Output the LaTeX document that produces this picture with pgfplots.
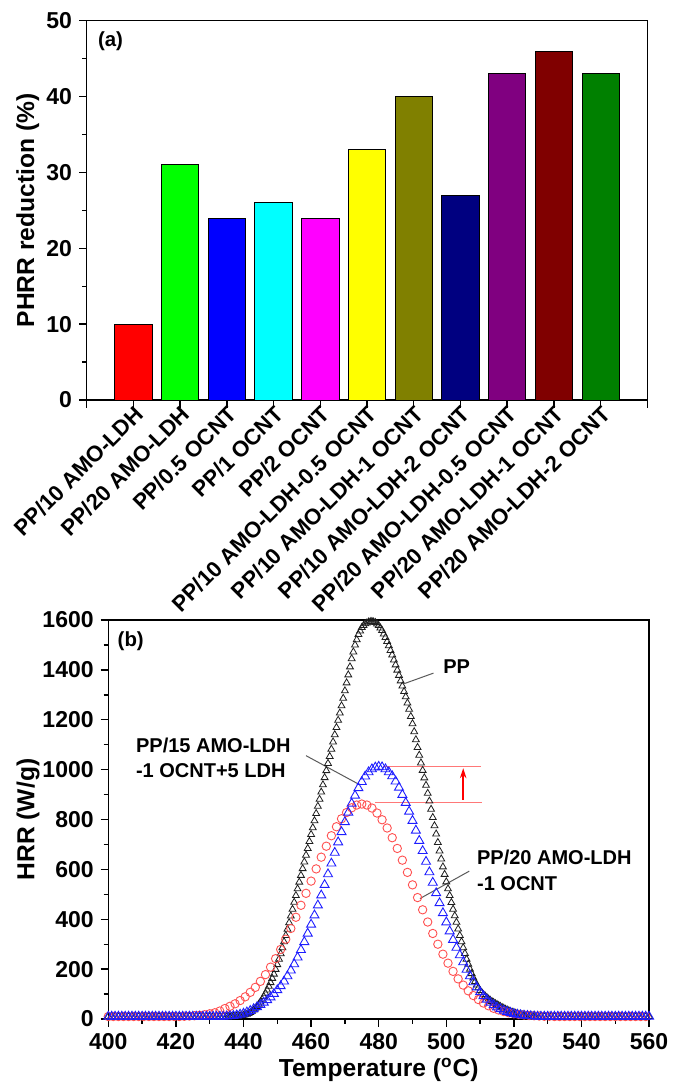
\documentclass[border=0pt]{standalone}
\usepackage{pgfplots}
\pgfplotsset{compat=1.18}
\usepackage{fontspec}
\setmainfont{Liberation Sans}
\usetikzlibrary{arrows.meta}
\definecolor{cRed}{RGB}{255,0,0}
\definecolor{cGreen}{RGB}{0,255,0}
\definecolor{cBlue}{RGB}{0,0,255}
\definecolor{cCyan}{RGB}{0,255,255}
\definecolor{cMag}{RGB}{255,0,255}
\definecolor{cYel}{RGB}{255,255,0}
\definecolor{cOlive}{RGB}{128,128,0}
\definecolor{cNavy}{RGB}{0,0,128}
\definecolor{cPurple}{RGB}{128,0,128}
\definecolor{cMaroon}{RGB}{128,0,0}
\definecolor{cDkGreen}{RGB}{0,128,0}
\definecolor{cCirc}{RGB}{255,80,80}
\definecolor{cTri}{RGB}{30,30,255}
\definecolor{cPP}{RGB}{30,30,30}
\definecolor{cLead}{RGB}{90,90,90}
\definecolor{cGuide}{RGB}{255,120,120}
\pgfplotsset{
  common/.style={
    scale only axis,
    tick align=outside, tick pos=left,
    major tick length=3.8pt, minor tick length=2.3pt,
    axis line style={line width=0.7pt},
    every tick/.style={line width=0.7pt, black},
    /pgf/number format/assume math mode=true,
    /pgf/number format/1000 sep={},
    tick label style={font=\bfseries\fontsize{11.5}{13}\selectfont},
    label style={font=\bfseries\fontsize{12.3}{14}\selectfont},
  }
}
\begin{document}
\begin{tikzpicture}
\useasboundingbox (0,0) rectangle (337.5pt,-546pt);
% ---------------- panel (a)
\begin{axis}[common,
  at={(43.35pt,-200pt)}, anchor=south west,
  width=280.3pt, height=189.65pt,
  xmin=0, xmax=12, ymin=0, ymax=50,
  xtick={0,1,2,3,4,5,6,7,8,9,10,11,12},
  xticklabels={{},PP/10 AMO-LDH,PP/20 AMO-LDH,PP/0.5 OCNT,PP/1 OCNT,PP/2 OCNT,PP/10 AMO-LDH-0.5 OCNT,PP/10 AMO-LDH-1 OCNT,PP/10 AMO-LDH-2 OCNT,PP/20 AMO-LDH-0.5 OCNT,PP/20 AMO-LDH-1 OCNT,PP/20 AMO-LDH-2 OCNT,{}},
  x tick label style={rotate=45, anchor=east, xshift=4.5pt, yshift=-3pt, font=\bfseries\fontsize{11.1}{13}\selectfont},
  ytick={0,10,20,30,40,50}, minor y tick num=1,
  ylabel={PHRR reduction (\%)},
  ylabel style={at={(axis description cs:-0.105,0.5)}, anchor=center},
  ybar, bar shift=0pt, bar width=0.8,
]
\addplot[fill=cRed, draw=black, line width=0.4pt] coordinates {(1,10)};
\addplot[fill=cGreen, draw=black, line width=0.4pt] coordinates {(2,31)};
\addplot[fill=cBlue, draw=black, line width=0.4pt] coordinates {(3,24)};
\addplot[fill=cCyan, draw=black, line width=0.4pt] coordinates {(4,26)};
\addplot[fill=cMag, draw=black, line width=0.4pt] coordinates {(5,24)};
\addplot[fill=cYel, draw=black, line width=0.4pt] coordinates {(6,33)};
\addplot[fill=cOlive, draw=black, line width=0.4pt] coordinates {(7,40)};
\addplot[fill=cNavy, draw=black, line width=0.4pt] coordinates {(8,27)};
\addplot[fill=cPurple, draw=black, line width=0.4pt] coordinates {(9,43)};
\addplot[fill=cMaroon, draw=black, line width=0.4pt] coordinates {(10,46)};
\addplot[fill=cDkGreen, draw=black, line width=0.4pt] coordinates {(11,43)};
\node[anchor=west, inner sep=0pt, font=\bfseries\fontsize{10.2}{12}\selectfont] at (rel axis cs:0.0196,0.947) {(a)};
\end{axis}
% ---------------- panel (b)
\begin{axis}[common,
  at={(54.15pt,-509.5pt)}, anchor=south west,
  width=270.4pt, height=199.5pt,
  xmin=400, xmax=560, ymin=0, ymax=1600,
  xtick={400,420,...,560}, minor x tick num=1,
  ytick={0,200,...,1600}, minor y tick num=1,
  xlabel={Temperature (\textsuperscript{o}C)},
  ylabel={HRR (W/g)},
  xlabel style={at={(axis description cs:0.5,-0.128)}, anchor=center},
  ylabel style={at={(axis description cs:-0.1485,0.5)}, anchor=center},
  clip=false,
]
% PP
\addplot[only marks, mark=triangle, mark size=2.0pt, color=cPP, mark options={line width=0.4pt}] coordinates {
(400,10)(401,10)(402,10)(403,10)(404,10)(405,10)(406,10)(407,10)(408,10)(409,10)(410,10)(411,10)(412,10)(413,10)(414,10)(415,10)(416,10)(417,10)(418,10)(419,10)(420,10)(421,10)(422,10)(423,10)(424,10)(425,10)(426,10)(427,10)(428,10)(429,10)(430,10)(431,10)(432,10)(433,10)(434,10)(435,10)
(435.5,10)(436,10)(436.5,10)(437,11)(437.5,11)(438,12)(438.5,12)(439,13)(439.5,14)(440,15)(440.5,17)(441,19)(441.5,22)(442,26)(442.5,31)(443,36)(443.5,43)(444,50)(444.5,59)(445,68)(445.5,79)(446,90)(446.5,103)(447,116)(447.5,131)(448,146)(448.5,163)(449,180)(449.5,199)(450,218)(450.5,240)(451,262)(451.5,286)(452,310)(452.5,335)(453,360)(453.5,386)(454,413)(454.5,440)(455,468)(455.5,495)(456,522)(456.5,549)(457,576)(457.5,603)(458,630)(458.5,657)(459,684)(459.5,712)(460,740)(460.5,767)(461,795)(461.5,824)(462,853)(462.5,881)(463,910)(463.5,939)(464,968)(464.5,996)(465,1025)(465.5,1053)(466,1082)(466.5,1111)(467,1140)(467.5,1169)(468,1198)(468.5,1227)(469,1256)(469.5,1286)(470,1316)(470.5,1348)(471,1380)(471.5,1412)(472,1445)(472.5,1472)(473,1500)(473.5,1521)(474,1542)(474.5,1556)(475,1570)(475.5,1578)(476,1585)(476.5,1588)(477,1592)(477.5,1593)(478,1594)(478.5,1592)(479,1590)(479.5,1584)(480,1578)(480.5,1568)(481,1558)(481.5,1544)(482,1530)(482.5,1514)(483,1497)(483.5,1478)(484,1460)(484.5,1440)(485,1420)(485.5,1399)(486,1378)(486.5,1356)(487,1335)(487.5,1313)(488,1292)(488.5,1267)(489,1242)(489.5,1213)(490,1184)(490.5,1152)(491,1120)(491.5,1089)(492,1058)(492.5,1027)(493,997)(493.5,967)(494,937)(494.5,905)(495,874)(495.5,841)(496,808)(496.5,775)(497,742)(497.5,708)(498,674)(498.5,642)(499,610)(499.5,580)(500,550)(500.5,522)(501,495)(501.5,467)(502,440)(502.5,414)(503,388)(503.5,361)(504,335)(504.5,310)(505,286)(505.5,263)(506,240)(506.5,220)(507,200)(507.5,182)(508,165)(508.5,150)(509,136)(509.5,125)(510,114)(510.5,106)(511,98)(511.5,92)(512,86)(512.5,80)(513,75)(513.5,70)(514,66)(514.5,62)(515,58)(515.5,54)(516,50)(516.5,46)(517,43)(517.5,39)(518,36)(518.5,33)(519,30)(519.5,27)(520,25)(520.5,23)(521,21)(521.5,19)(522,18)(522.5,16)(523,15)(523.5,14)(524,13)(524.5,12)(525,12)(525.5,11)(526,11)(526.5,10)(527,10)
(528,10)(529,10)(530,10)(531,10)(532,10)(533,10)(534,10)(535,10)(536,10)(537,10)(538,10)(539,10)(540,10)(541,10)(542,10)(543,10)(544,10)(545,10)(546,10)(547,10)(548,10)(549,10)(550,10)(551,10)(552,10)(553,10)(554,10)(555,10)(556,10)(557,10)(558,10)(559,10)(560,10)
};
% PP/20 AMO-LDH-1 OCNT
\addplot[only marks, mark=o, mark size=2.1pt, color=cCirc, mark options={line width=0.45pt}] coordinates {
(400,10)(401.5,10)(403,10)(404.5,10)(406,10)(407.5,10)(409,10)(410.5,10)(412,10)(413.5,10)(415,10)(416.5,10)(418,10)(419.5,10)(421,10)
(422.5,11)(424,12)(425.5,13)(427,15)(428.5,17)(430,21)(431.5,25)(433,32)(434.5,42)(436,51)(437.5,61)(439,74)(440.5,89)(442,107)(443.5,127)(445,151)(446.5,178)(448,208)(449.5,242)(451,279)(452.5,320)(454,363)(455.5,408)(457,456)(458.5,504)(460,553)(461.5,602)(463,649)(464.5,693)(466,735)(467.5,771)(469,803)(470.5,828)(472,847)(473.5,858)(475,862)
(476.5,858)(478,846)(479.5,826)(481,799)(482.5,766)(484,727)(485.5,684)(487,637)(488.5,588)(490,538)(491.5,487)(493,438)(494.5,389)(496,343)(497.5,300)(499,260)(500.5,224)(502,191)(503.5,161)(505,136)(506.5,113)(508,94)(509.5,78)(511,64)(512.5,53)(514,43)(515.5,36)(517,30)(518.5,25)(520,21)(521.5,18)(523,16)(524.5,14)(526,13)(527.5,12)(529,11)(530.5,11)
(532,10)(533.5,10)(535,10)(536.5,10)(538,10)(539.5,10)(541,10)(542.5,10)(544,10)(545.5,10)(547,10)(548.5,10)(550,10)(551.5,10)(553,10)(554.5,10)(556,10)(557.5,10)(559,10)
};
% PP/15 AMO-LDH-1 OCNT+5 LDH
\addplot[only marks, mark=triangle, mark size=2.6pt, color=cTri, mark options={line width=0.45pt}] coordinates {
(400,10)(401,10)(402,10)(403,10)(404,10)(405,10)(406,10)(407,10)(408,10)(409,10)(410,10)(411,10)(412,10)(413,10)(414,10)(415,10)(416,10)(417,10)(418,10)(419,10)(420,10)(421,10)(422,10)(423,10)(424,10)(425,10)(426,10)(427,10)(428,10)(429,10)(430,10)(431,10)(432,10)(433,10)(434,10)
(435,11)(436,12)(437,13)(438,15)(439,18)(440,22)(441,27)(442,33)(443,40)(444,48)(445,57)(446,66)(447,76)(448,87)(449,101)(450,116)(451,132)(452,151)(453,172)(454,195)(455,220)(456,247)(457,277)(458,309)(459,343)(460,379)(461,416)(462,456)(463,496)(464,538)(465,581)(466,624)(467,667)(468,709)(469,750)(470,790)(471,828)(472,864)(473,896)(474,926)(475,951)(476,973)(477,990)(478,1002)(479,1009)(480,1012)
(481,1010)(482,1002)(483,990)(484,974)(485,953)(486,928)(487,899)(488,867)(489,832)(490,795)(491,756)(492,715)(493,674)(494,631)(495,589)(496,547)(497,505)(498,465)(499,425)(500,388)(501,352)(502,318)(503,286)(504,256)(505,228)(506,198)(507,172)(508,148)(509,127)(510,108)(511,92)(512,78)(513,66)(514,56)(515,47)(516,40)(517,34)(518,29)(519,25)(520,21)(521,18)(522,16)(523,14)(524,13)(525,12)(526,11)
(527,10)(528,10)(529,10)(530,10)(531,10)(532,10)(533,10)(534,10)(535,10)(536,10)(537,10)(538,10)(539,10)(540,10)(541,10)(542,10)(543,10)(544,10)(545,10)(546,10)(547,10)(548,10)(549,10)(550,10)(551,10)(552,10)(553,10)(554,10)(555,10)(556,10)(557,10)(558,10)(559,10)(560,10)
};
% annotations
\draw[cGuide, line width=0.5pt] (axis cs:481.4,1012) -- (axis cs:510.3,1012);
\draw[cGuide, line width=0.5pt] (axis cs:478.9,869) -- (axis cs:510.6,869);
\draw[red, line width=0.9pt, -{Stealth[length=5pt,width=3.2pt]}] (axis cs:505,880) -- (axis cs:505,1006);
\draw[cLead, line width=0.5pt] (axis cs:496.2,1387) -- (axis cs:487.6,1345);
\draw[cLead, line width=0.5pt] (axis cs:458.5,1056) -- (axis cs:474.3,940);
\draw[cLead, line width=0.5pt] (axis cs:506.8,593) -- (axis cs:492.2,483);
\node[anchor=west, inner sep=0pt, font=\bfseries\fontsize{10}{12}\selectfont] at (axis cs:499.0,1412) {PP};
\node[anchor=west, inner sep=0pt, align=left, font=\bfseries\fontsize{10}{12.85}\selectfont] at (axis cs:408.1,1047.5) {PP/15 AMO-LDH\\-1 OCNT+5 LDH};
\node[anchor=west, inner sep=0pt, align=left, font=\bfseries\fontsize{10}{12.85}\selectfont] at (axis cs:509.0,597) {PP/20 AMO-LDH\\-1 OCNT};
\node[anchor=west, inner sep=0pt, font=\bfseries\fontsize{10.2}{12}\selectfont] at (rel axis cs:0.0167,0.948) {(b)};
\end{axis}
\end{tikzpicture}
\end{document}
